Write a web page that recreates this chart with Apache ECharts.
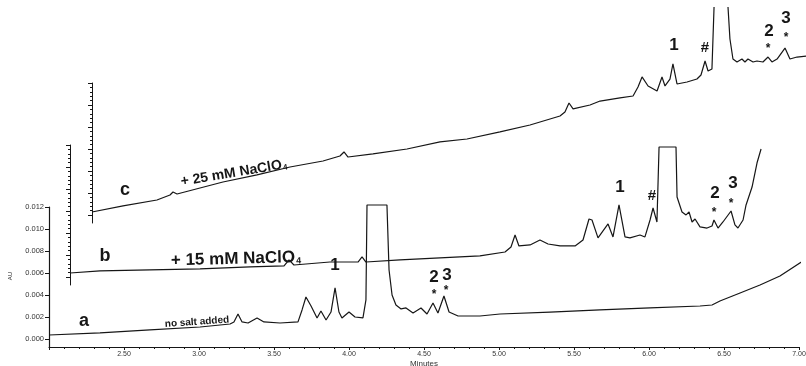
<!DOCTYPE html>
<html><head><meta charset="utf-8">
<script src="https://cdn.jsdelivr.net/npm/echarts@6/dist/echarts.min.js"></script>
<style>html,body{margin:0;padding:0;background:#fff}#c{width:806px;height:366px}</style>
</head><body><div id="c"></div>
<script>
// ---- data (time in minutes, absorbance in AU) ----
const yTicks = [0, 0.002, 0.004, 0.006, 0.008, 0.010, 0.012];
const yMinorTicks = [0.0004,0.0008,0.0012,0.0016,0.0024,0.0028,0.0032,0.0036,0.0044,0.0048,0.0052,0.0056,0.0064,0.0068,0.0072,0.0076,0.0084,0.0088,0.0092,0.0096,0.0104,0.0108,0.0112,0.0116];
const xTicks = [2.5, 3.0, 3.5, 4.0, 4.5, 5.0, 5.5, 6.0, 6.5, 7.0];

// trace a : no salt added
const traceA = [
[2.000,0.00036],[2.340,0.00055],[2.673,0.00082],[3.007,0.00109],[3.207,0.00136],[3.233,0.00155],
[3.260,0.00227],[3.287,0.00155],[3.327,0.00145],[3.387,0.00191],[3.433,0.00155],[3.540,0.00145],
[3.660,0.00155],[3.687,0.00264],[3.713,0.00382],[3.747,0.00300],[3.787,0.00191],[3.813,0.00255],
[3.847,0.00173],[3.880,0.00245],[3.907,0.00464],[3.933,0.00245],[3.953,0.00191],[4.000,0.00245],
[4.040,0.00200],[4.093,0.00191],[4.113,0.00355],[4.120,0.01218],[4.253,0.01218],[4.267,0.00627],
[4.287,0.00400],[4.313,0.00309],[4.347,0.00273],[4.380,0.00282],[4.427,0.00236],[4.480,0.00282],
[4.520,0.00227],[4.560,0.00327],[4.593,0.00236],[4.633,0.00391],[4.667,0.00245],[4.727,0.00209],
[4.873,0.00209],[5.007,0.00227],[5.340,0.00245],[5.673,0.00264],[6.007,0.00282],[6.340,0.00300],
[6.420,0.00309],[6.473,0.00345],[6.607,0.00418],[6.740,0.00491],[6.873,0.00573],[7.047,0.00727]
];
// trace b : + 15 mM NaClO4
const traceB = [
[2.000,0.00036],[2.200,0.00055],[2.533,0.00064],[2.867,0.00073],[3.200,0.00091],[3.427,0.00100],
[3.460,0.00155],[3.493,0.00109],[3.733,0.00136],[3.920,0.00136],[3.947,0.00182],[3.973,0.00136],
[4.200,0.00155],[4.733,0.00191],[4.900,0.00227],[4.940,0.00273],[4.967,0.00382],[4.993,0.00282],
[5.067,0.00291],[5.133,0.00336],[5.187,0.00300],[5.267,0.00282],[5.367,0.00282],[5.420,0.00336],
[5.460,0.00527],[5.480,0.00518],[5.520,0.00355],[5.587,0.00482],[5.620,0.00364],[5.660,0.00655],
[5.700,0.00364],[5.733,0.00355],[5.800,0.00382],[5.833,0.00364],[5.867,0.00518],[5.887,0.00627],
[5.913,0.00500],[5.927,0.01182],[6.040,0.01182],[6.047,0.00727],[6.080,0.00591],[6.107,0.00564],
[6.127,0.00591],[6.147,0.00500],[6.167,0.00527],[6.200,0.00455],[6.247,0.00445],[6.280,0.00464],
[6.293,0.00518],[6.320,0.00445],[6.353,0.00500],[6.407,0.00600],[6.433,0.00473],[6.453,0.00445],
[6.487,0.00518],[6.507,0.00655],[6.547,0.00818],[6.580,0.01036],[6.607,0.01164]
];
// trace c : + 25 mM NaClO4
const traceC = [
[2.000,0.00027],[2.207,0.00082],[2.433,0.00136],[2.520,0.00182],[2.540,0.00209],[2.567,0.00191],
[2.873,0.00300],[3.100,0.00364],[3.320,0.00436],[3.540,0.00491],[3.653,0.00536],[3.680,0.00573],
[3.707,0.00527],[3.873,0.00555],[4.100,0.00600],[4.320,0.00664],[4.500,0.00691],[4.720,0.00755],
[4.920,0.00818],[5.120,0.00900],[5.153,0.00936],[5.180,0.01018],[5.207,0.00964],[5.320,0.01000],
[5.387,0.01036],[5.520,0.01064],[5.607,0.01082],[5.640,0.01164],[5.667,0.01255],[5.707,0.01173],
[5.767,0.01127],[5.800,0.01255],[5.820,0.01173],[5.853,0.01236],[5.873,0.01373],[5.900,0.01191],
[5.967,0.01209],[6.033,0.01236],[6.060,0.01273],[6.087,0.01400],[6.107,0.01309],[6.133,0.01327],
[6.147,0.01891],[6.190,'-'],[6.240,0.01891],[6.253,0.01600],[6.273,0.01418],[6.300,0.01391],
[6.333,0.01418],[6.353,0.01391],[6.373,0.01418],[6.407,0.01391],[6.433,0.01400],[6.473,0.01391],
[6.507,0.01436],[6.533,0.01391],[6.567,0.01418],[6.620,0.01518],[6.653,0.01418],[6.700,0.01436],
[6.760,0.01445]
];

// ---- chart ----
const chart = echarts.init(document.getElementById('c'), null, {renderer: 'canvas'});
const INK = '#161616';
const Y_MIN = -0.00073, Y_MAX = 0.012;
const BASE_FONT = "'Liberation Sans',Arial,sans-serif";
const LABEL_FONT = "'Liberation Sans Narrow','Liberation Sans',Arial,sans-serif";

function grid(left, top) { return {left: left, top: top, width: 750, height: 140, containLabel: false, outerBoundsMode: 'none'}; }
function hiddenX(idx) { return {type:'value', gridIndex: idx, min: 2, max: 7, show: false}; }
function offsetY(idx, minor) {
  return {
    type:'value', gridIndex: idx, min: Y_MIN, max: Y_MAX, position:'left',
    axisLine:{show: !minor, onZero:false, lineStyle:{color: INK, width: 1}},
    axisTick:{show:true, inside:false, length: minor ? 2 : 4, customValues: minor ? yMinorTicks : yTicks, lineStyle:{color: INK, width: 1}},
    axisLabel:{show:false}, splitLine:{show:false}
  };
}
function lineSeries(data, xi, yi) {
  return {type:'line', xAxisIndex: xi, yAxisIndex: yi, data: data, showSymbol:false, symbol:'none',
          clip:false, connectNulls:false, lineStyle:{color: INK, width: 1.2}, silent:true, animation:false};
}
function txt(x, y, s, size, opts) {
  opts = opts || {};
  return {type:'text', x: x, y: y, rotation: opts.rot || 0, silent:true,
    style:{text: s, fill: INK, font: (opts.weight || 'bold') + ' ' + size + 'px ' + (opts.family || BASE_FONT),
      align: opts.align || 'center', verticalAlign: 'middle'}};
}
function salt(x, y, amount, rot, size) {
  return {type:'text', x: x, y: y, rotation: rot, silent:true,
    style:{text: '{n|+ ' + amount + ' mM NaClO}{s|4}', align:'center', verticalAlign:'middle', fill: INK,
      rich:{ n:{font:"bold " + size + "px " + BASE_FONT, fill: INK},
             s:{font:"bold " + Math.round(size*0.55) + "px " + BASE_FONT, fill: INK, padding:[Math.round(size*0.4),0,0,1]} }}};
}

const option = {
  backgroundColor:'#fff',
  animation:false,
  grid:[grid(49,207), grid(70,145), grid(92,83)],
  xAxis:[
    {type:'value', gridIndex:0, min:2, max:7, interval:0.5,
     name:'Minutes', nameLocation:'middle', nameGap:13,
     nameTextStyle:{fontSize:8, color:'#333', fontFamily: BASE_FONT},
     axisLine:{onZero:false, lineStyle:{color: INK, width:1.2}},
     axisTick:{length:3, lineStyle:{color: INK}},
     minorTick:{show:true, splitNumber:5, length:2, lineStyle:{color: INK}},
     axisLabel:{customValues: xTicks, formatter: v => v.toFixed(2), fontSize:7, color:'#333', margin:4,
                fontFamily: BASE_FONT},
     splitLine:{show:false}},
    hiddenX(1), hiddenX(2)
  ],
  yAxis:[
    {type:'value', gridIndex:0, min: Y_MIN, max: Y_MAX,
     axisLine:{show:true, onZero:false, lineStyle:{color: INK, width:1.2}},
     axisTick:{show:true, length:4, customValues: yTicks, lineStyle:{color: INK}},
     axisLabel:{customValues: yTicks, formatter: v => v.toFixed(3), fontSize:7.5, color:'#333', margin:5,
                fontFamily: BASE_FONT},
     splitLine:{show:false}},
    offsetY(1,false), offsetY(1,true),
    offsetY(2,false), offsetY(2,true)
  ],
  series:[
    lineSeries(traceA, 0, 0),
    lineSeries(traceB, 1, 1),
    lineSeries(traceC, 2, 3)
  ],
  graphic:[
    txt(10, 276, 'AU', 6, {weight:'normal', rot: Math.PI/2}),
    // trace a
    txt(84, 321, 'a', 18),
    txt(197, 322, 'no salt added', 10, {rot: 4*Math.PI/180, family: LABEL_FONT}),
    txt(335, 265, '1', 17, {family: LABEL_FONT}),
    txt(434, 277, '2', 17, {family: LABEL_FONT}),
    txt(447, 275, '3', 17, {family: LABEL_FONT}),
    txt(434, 295, '*', 12), txt(446, 291, '*', 12),
    // trace b
    txt(105, 256, 'b', 18),
    salt(236, 259, '15', 1.5*Math.PI/180, 17),
    txt(620, 187, '1', 17, {family: LABEL_FONT}),
    txt(652, 196, '#', 15, {family: LABEL_FONT}),
    txt(715, 193, '2', 17, {family: LABEL_FONT}),
    txt(733, 183, '3', 17, {family: LABEL_FONT}),
    txt(714, 213, '*', 12), txt(731, 204, '*', 12),
    // trace c
    txt(125, 190, 'c', 18),
    salt(234, 173, '25', 9.5*Math.PI/180, 14),
    txt(674, 45, '1', 17, {family: LABEL_FONT}),
    txt(705, 48, '#', 15, {family: LABEL_FONT}),
    txt(769, 31, '2', 17, {family: LABEL_FONT}),
    txt(786, 18, '3', 17, {family: LABEL_FONT}),
    txt(768, 49, '*', 12), txt(786, 38, '*', 12)
  ]
};
chart.setOption(option);
</script></body></html>
